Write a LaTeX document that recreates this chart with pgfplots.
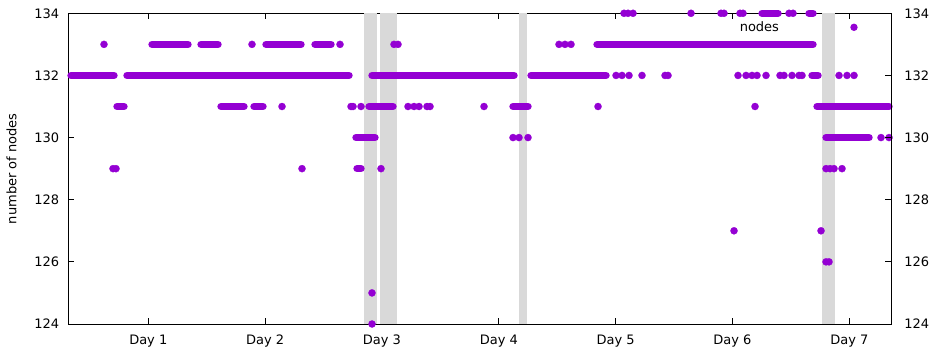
\documentclass[border=0pt]{standalone}
\usepackage{fontspec}
\setmainfont{DejaVu Sans}
\usepackage{pgfplots}
\pgfplotsset{compat=1.18}
\definecolor{nodecol}{HTML}{9400D3}
\definecolor{bandcol}{HTML}{D9D9D9}
\begin{document}
\fontsize{13}{15}\selectfont
\begin{tikzpicture}
\pgfplotsset{
  common/.style={
    at={(0,0)}, anchor=south west,
    scale only axis, width=822.7pt, height=310.7pt,
    xmin=0.3152, xmax=7.3569, ymin=124, ymax=134,
    ytick={124,126,128,130,132,134},
    tick align=inside, major tick length=6pt,
    tick style={black, line width=0.8pt},
    axis line style={black, line width=0.8pt},
    tick label style={font=\fontsize{13}{15}\selectfont},
    /pgf/number format/assume math mode=true,
  }
}
\begin{axis}[
  common,
  clip=false,
  xtick={1,2,3,4,5,6,7},
  xticklabels={Day 1,Day 2,Day 3,Day 4,Day 5,Day 6,Day 7},
  xticklabel style={yshift=-6.7pt},
  yticklabel pos=left,
  yticklabel style={xshift=-4.7pt},
  ylabel={number of nodes},
  every axis y label/.style={at={(axis description cs:-0.06904,0.5)}, rotate=90, anchor=center, font=\fontsize{13}{15}\selectfont},
  legend plot pos=right,
  legend style={at={(axis description cs:0.9595,0.9549)}, anchor=east, draw=none, fill=none,
    inner sep=0pt, outer sep=0pt, nodes={inner sep=0pt}, column sep=0pt,
    font=\fontsize{13}{15}\selectfont},
]
% grey bands
\addplot[fill=bandcol, draw=none, forget plot] coordinates {(2.8463,124)(2.8463,134)(2.9550,134)(2.9550,124)} -- cycle;
\addplot[fill=bandcol, draw=none, forget plot] coordinates {(2.9832,124)(2.9832,134)(3.1262,134)(3.1262,124)} -- cycle;
\addplot[fill=bandcol, draw=none, forget plot] coordinates {(4.1730,124)(4.1730,134)(4.2389,134)(4.2389,124)} -- cycle;
\addplot[fill=bandcol, draw=none, forget plot] coordinates {(6.7691,124)(6.7691,134)(6.8778,134)(6.8778,124)} -- cycle;
% runs of closely spaced points
\addplot[nodecol, line width=7.4pt, line cap=round, unbounded coords=jump, forget plot] coordinates {
(0.3384,132)(0.7064,132) (nan,nan)
(0.8177,132)(2.7179,132) (nan,nan)
(2.9147,132)(4.1302,132) (nan,nan)
(4.2757,132)(4.9177,132) (nan,nan)
(6.6808,132)(6.7323,132) (nan,nan)
(1.0317,133)(1.3398,133) (nan,nan)
(1.4511,133)(1.5966,133) (nan,nan)
(2.0074,133)(2.3070,133) (nan,nan)
(2.4269,133)(2.5638,133) (nan,nan)
(4.8406,133)(6.6894,133) (nan,nan)
(0.7321,131)(0.7920,131) (nan,nan)
(1.6223,131)(1.8191,131) (nan,nan)
(1.9047,131)(1.9818,131) (nan,nan)
(2.8891,131)(3.0945,131) (nan,nan)
(4.1216,131)(4.2500,131) (nan,nan)
(6.7237,131)(7.3400,131) (nan,nan)
(2.7778,130)(2.9404,130) (nan,nan)
(6.8008,130)(7.1688,130) (nan,nan)
(2.7864,129)(2.8206,129) (nan,nan)
(6.2529,134)(6.3899,134) (nan,nan)
(6.6552,134)(6.6894,134)
};
% isolated points
\addplot[only marks, mark=*, mark size=3.6pt, color=nodecol, mark options={fill=nodecol, draw=nodecol, line width=0.2pt},
  legend image code/.code={\path[draw=none] (0pt,0pt) -- (75pt,0pt); \fill[nodecol, draw=none] (75pt,0pt) circle (3.7pt);}] coordinates {
(5.0033,132)(5.0546,132)(5.1145,132)(5.2258,132)(5.4227,132)(5.4484,132)
(6.0475,132)(6.1160,132)(6.1673,132)(6.2101,132)(6.2872,132)(6.4070,132)
(6.4412,132)(6.5097,132)(6.5696,132)(6.5953,132)(6.9120,132)(6.9805,132)(7.0405,132)
(0.6208,133)(1.8876,133)(2.6409,133)(3.1031,133)(3.1373,133)(4.5153,133)(4.5667,133)(4.6181,133)
(2.1444,131)(2.7350,131)(2.7521,131)(2.8206,131)(3.2229,131)(3.2743,131)(3.3171,131)
(3.3855,131)(3.4112,131)(3.8734,131)(4.8492,131)(6.1930,131)
(4.1216,130)(4.1730,130)(4.2500,130)(7.2715,130)(7.3400,130)
(0.6979,129)(0.7235,129)(2.3156,129)(2.9918,129)(6.8008,129)(6.8350,129)(6.8692,129)(6.9377,129)
(5.0717,134)(5.1060,134)(5.1488,134)(5.6453,134)(5.9020,134)(5.9277,134)(6.0646,134)(6.0903,134)
(6.4840,134)(6.5183,134)
(6.0133,127)(6.7579,127)
(6.8008,126)(6.8264,126)
(2.9147,125)
(2.9147,124)
};
\addlegendentry{nodes}
\end{axis}
\begin{axis}[
  common,
  hide x axis,
  axis y line*=right,
  yticklabel style={xshift=8.7pt, anchor=west},
]
\end{axis}
\pgfresetboundingbox
\path[use as bounding box] (-68.3pt,-29pt) rectangle (862.7pt,324pt);
\end{tikzpicture}
\end{document}
